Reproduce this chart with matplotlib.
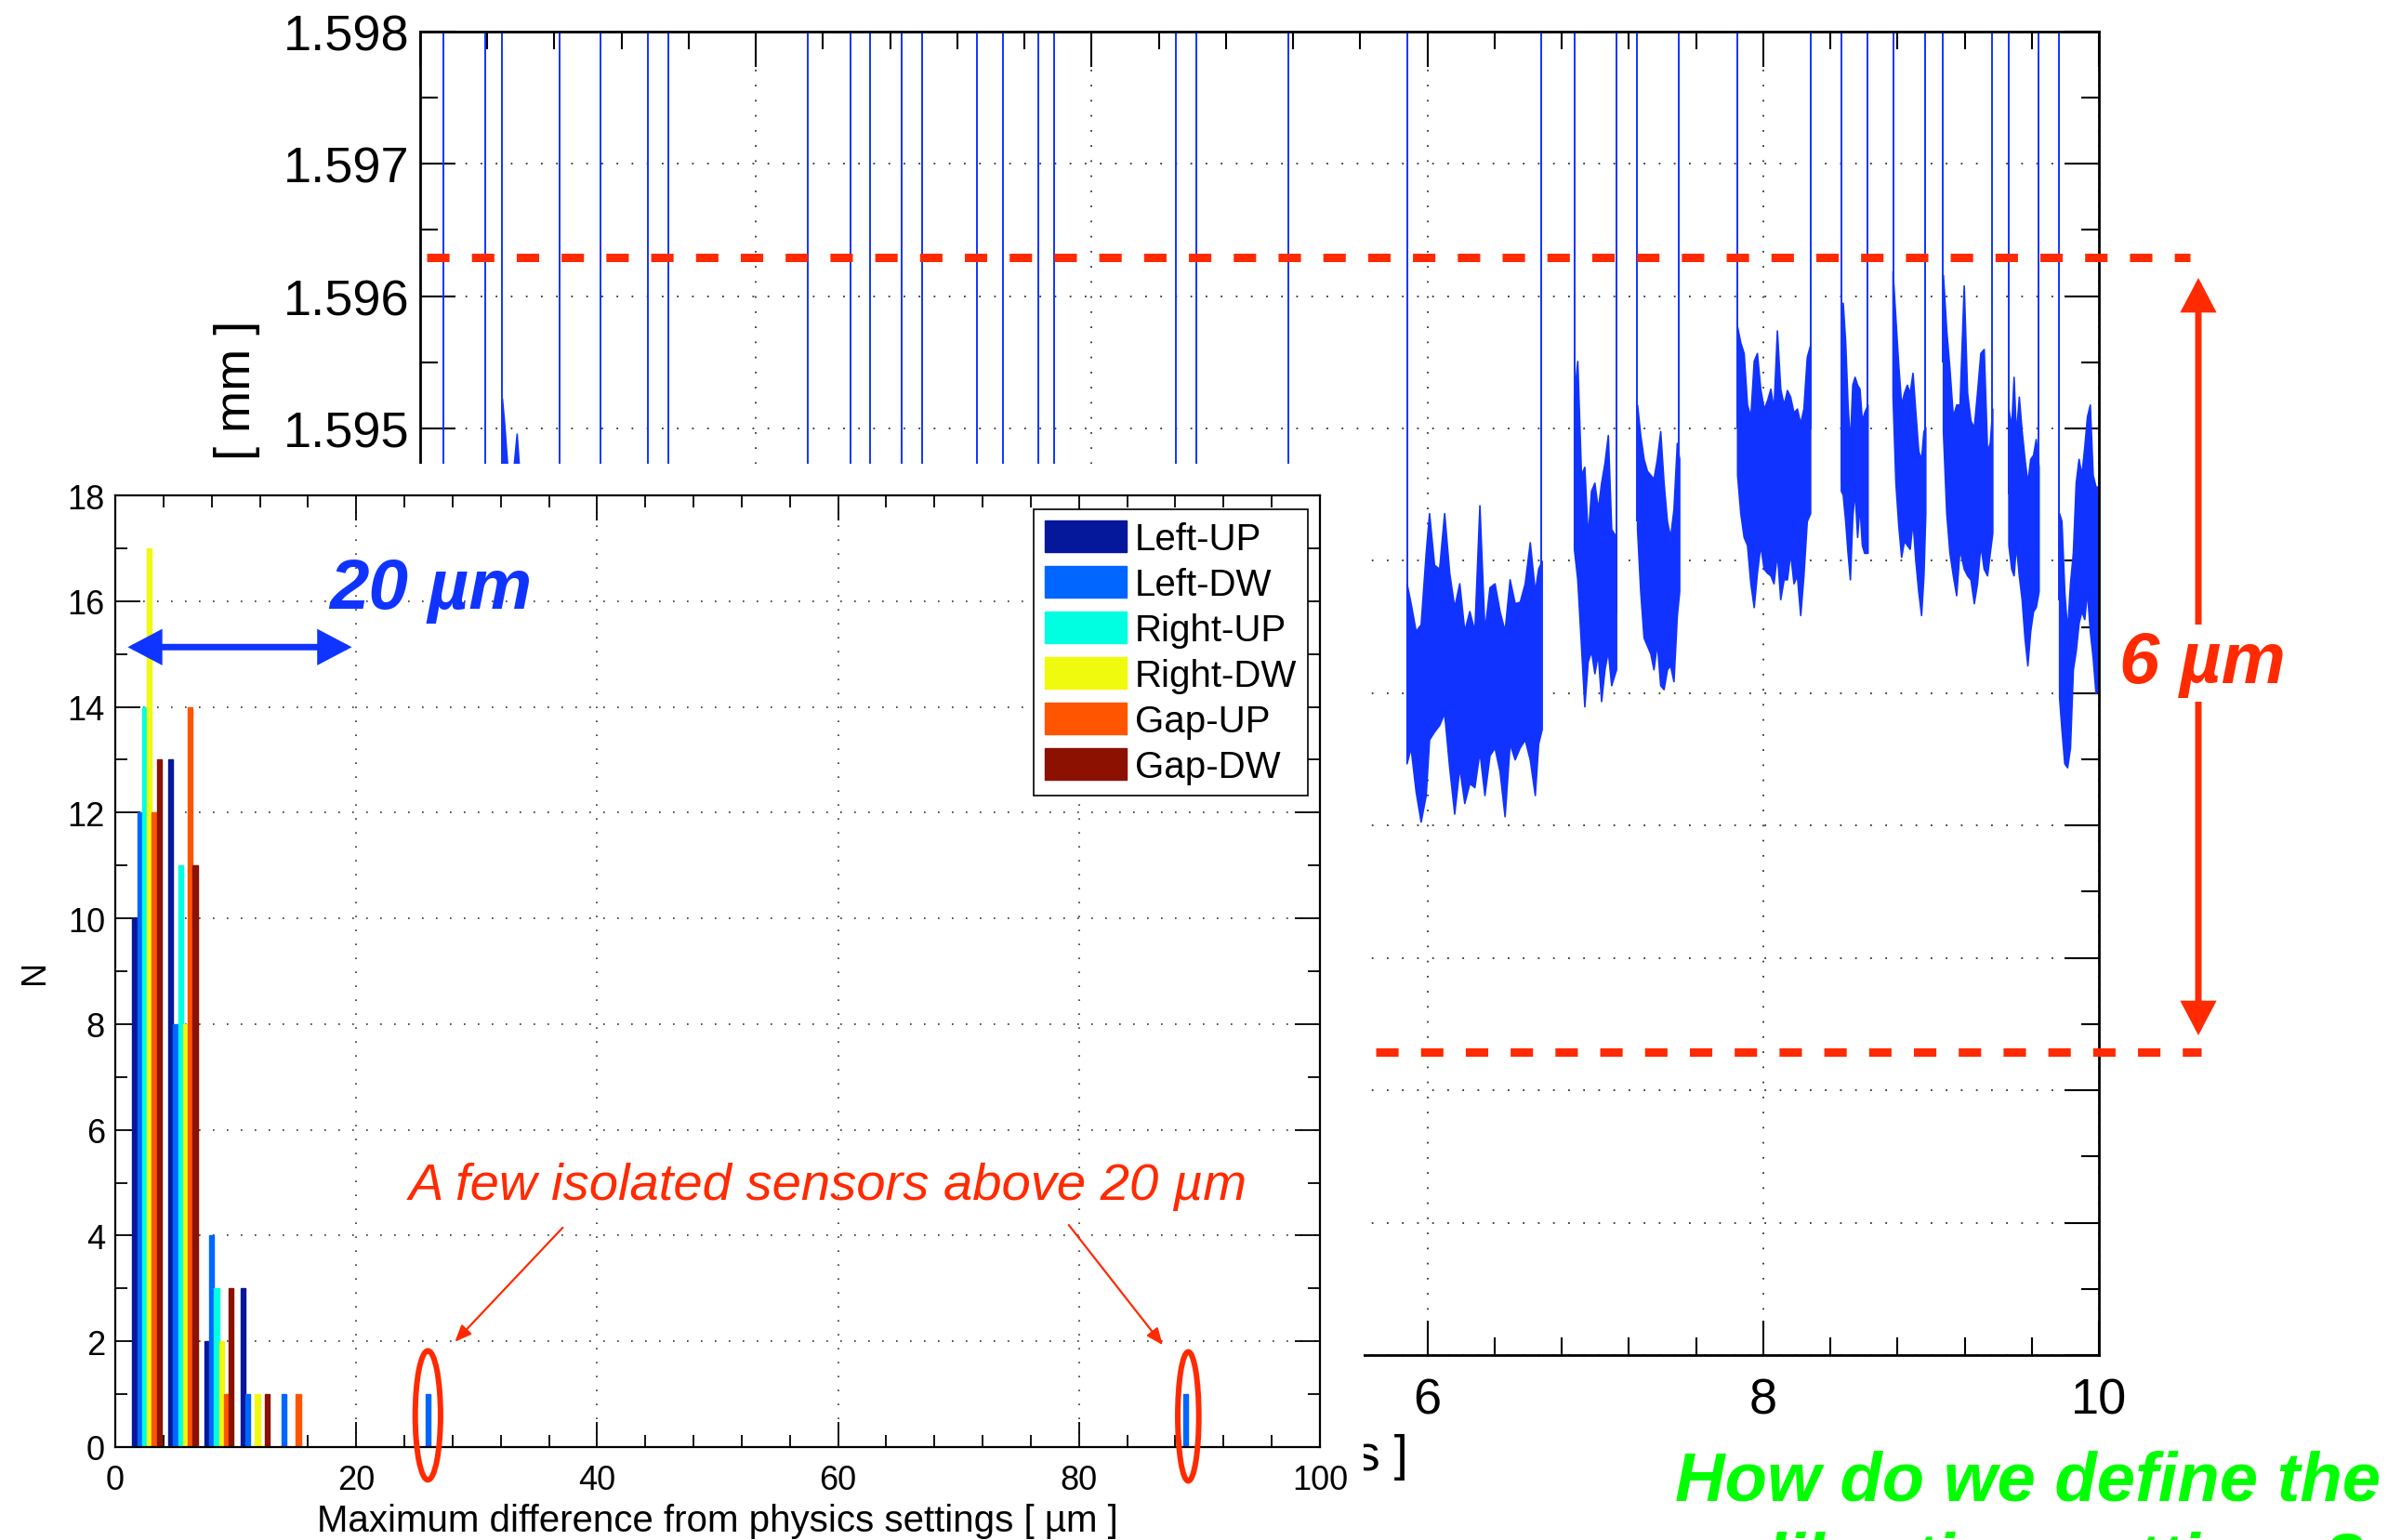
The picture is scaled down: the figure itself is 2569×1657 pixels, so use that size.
import numpy as np
import matplotlib.pyplot as plt
from matplotlib.patches import Ellipse, FancyArrowPatch
from matplotlib.ticker import MultipleLocator, FormatStrFormatter

plt.rcParams['font.family'] = ['Liberation Sans', 'DejaVu Sans']

# --- histogram data (inset) ---
series_names = ['Left-UP', 'Left-DW', 'Right-UP', 'Right-DW', 'Gap-UP', 'Gap-DW']
series_colors = ['#05179A', '#0066FF', '#00FFE1', '#F0FA0F', '#FF5500', '#8C1100']
n_bins = 30
bin_first, bin_step = 2.63, 2.993
counts_left_up = [10, 13, 2, 3] + [0] * 26
counts_left_dw = [12, 8, 4, 1, 1, 0, 0, 0, 1] + [0] * 20 + [1]
counts_right_up = [14, 11, 3] + [0] * 27
counts_right_dw = [17, 8, 2, 1] + [0] * 26
counts_gap_up = [12, 14, 1, 0, 1] + [0] * 25
counts_gap_dw = [13, 11, 3, 1] + [0] * 26

# --- time series data (background), [mm] vs time ---
seg_0_t = [0.487, 0.50, 0.52, 0.545, 0.575, 0.60, 0.65, 0.70, 0.75, 0.80, 0.831]
seg_0_hi = [1.59523, 1.59505, 1.59470, 1.59455, 1.59496, 1.59450, 1.59440, 1.59445, 1.59430, 1.59440, 1.59435]
seg_0_lo = [1.59380, 1.59370, 1.59360, 1.59350, 1.59365, 1.59340, 1.59350, 1.59345, 1.59335, 1.59350, 1.59340]

seg_a_t = [5.876, 5.90, 5.93, 5.96, 5.99, 6.01, 6.04, 6.07, 6.10, 6.13, 6.16, 6.19, 6.22, 6.25, 6.28,
           6.31, 6.34, 6.37, 6.40, 6.43, 6.46, 6.49, 6.52, 6.55, 6.58, 6.61, 6.64, 6.66, 6.681]
seg_a_hi = [1.59383, 1.59368, 1.59347, 1.59352, 1.59406, 1.59436, 1.59397, 1.59394, 1.59436, 1.59391,
            1.59365, 1.59383, 1.59347, 1.59362, 1.59347, 1.59442, 1.59347, 1.59380, 1.59383, 1.59362,
            1.59347, 1.59386, 1.59368, 1.59369, 1.59383, 1.59414, 1.59377, 1.59394, 1.59400]
seg_a_lo = [1.59247, 1.59259, 1.59226, 1.59203, 1.59223, 1.59265, 1.59271, 1.59276, 1.59285, 1.59244,
            1.59209, 1.59244, 1.59217, 1.59232, 1.59229, 1.59256, 1.59223, 1.59253, 1.59259, 1.59241,
            1.59207, 1.59262, 1.59250, 1.59259, 1.59265, 1.59250, 1.59223, 1.59262, 1.59273]

seg_b_t = [6.873, 6.893, 6.915, 6.935, 6.955, 6.975, 6.995, 7.015, 7.035, 7.055, 7.075, 7.095, 7.124]
seg_b_hi = [1.59524, 1.59551, 1.59465, 1.59471, 1.59418, 1.59453, 1.59459, 1.59439, 1.59459, 1.59474, 1.59495, 1.59424, 1.59418]
seg_b_lo = [1.59409, 1.59386, 1.59336, 1.59290, 1.59324, 1.59332, 1.59315, 1.59330, 1.59294, 1.59318, 1.59332, 1.59306, 1.59318]

seg_c_t = [7.249, 7.268, 7.288, 7.308, 7.328, 7.347, 7.367, 7.387, 7.407, 7.427, 7.446, 7.466, 7.486, 7.500]
seg_c_hi = [1.59518, 1.59495, 1.59477, 1.59468, 1.59465, 1.59462, 1.59477, 1.59498, 1.59459, 1.59430, 1.59418, 1.59439, 1.59489, 1.59477]
seg_c_lo = [1.59424, 1.59377, 1.59342, 1.59336, 1.59330, 1.59318, 1.59338, 1.59306, 1.59303, 1.59318, 1.59321, 1.59309, 1.59359, 1.59377]

seg_d_t = [7.845, 7.864, 7.884, 7.904, 7.924, 7.944, 7.963, 7.983, 8.003, 8.023, 8.043, 8.062, 8.082,
           8.102, 8.122, 8.142, 8.161, 8.181, 8.201, 8.221, 8.240, 8.260, 8.280]
seg_d_hi = [1.59577, 1.59565, 1.59557, 1.59518, 1.59509, 1.59551, 1.59557, 1.59530, 1.59515, 1.59521, 1.59530, 1.59515,
            1.59574, 1.59530, 1.59518, 1.59529, 1.59524, 1.59512, 1.59515, 1.59504, 1.59515, 1.59554, 1.59563]
seg_d_lo = [1.59465, 1.59436, 1.59418, 1.59412, 1.59383, 1.59365, 1.59391, 1.59412, 1.59394, 1.59391, 1.59389, 1.59383,
            1.59406, 1.59371, 1.59386, 1.59386, 1.59406, 1.59383, 1.59389, 1.59359, 1.59389, 1.59430, 1.59436]

seg_e_t = [8.463, 8.474, 8.489, 8.503, 8.517, 8.531, 8.545, 8.560, 8.574, 8.588, 8.602, 8.622]
seg_e_hi = [1.59495, 1.59595, 1.59565, 1.59518, 1.59489, 1.59533, 1.59539, 1.59533, 1.59530, 1.59506, 1.59512, 1.59518]
seg_e_lo = [1.59453, 1.59450, 1.59430, 1.59406, 1.59386, 1.59433, 1.59453, 1.59418, 1.59442, 1.59412, 1.59406, 1.59406]

seg_f_t = [8.771, 8.788, 8.805, 8.822, 8.839, 8.856, 8.873, 8.890, 8.907, 8.924, 8.941, 8.955, 8.966]
seg_f_hi = [1.59619, 1.59583, 1.59548, 1.59518, 1.59527, 1.59533, 1.59527, 1.59542, 1.59512, 1.59483, 1.59477, 1.59498, 1.59501]
seg_f_lo = [1.59524, 1.59459, 1.59427, 1.59403, 1.59415, 1.59412, 1.59409, 1.59430, 1.59400, 1.59377, 1.59359, 1.59389, 1.59436]

seg_g_t = [9.071, 9.091, 9.110, 9.130, 9.150, 9.170, 9.195, 9.215, 9.235, 9.255, 9.274, 9.294, 9.314, 9.334, 9.350, 9.365]
seg_g_hi = [1.59616, 1.59574, 1.59545, 1.59509, 1.59518, 1.59518, 1.59608, 1.59527, 1.59506, 1.59501, 1.59527, 1.59557,
            1.59560, 1.59483, 1.59489, 1.59515]
seg_g_lo = [1.59498, 1.59436, 1.59406, 1.59389, 1.59374, 1.59409, 1.59394, 1.59389, 1.59386, 1.59368, 1.59383, 1.59412,
            1.59394, 1.59389, 1.59406, 1.59421]

seg_h_t = [9.461, 9.478, 9.492, 9.506, 9.523, 9.540, 9.557, 9.574, 9.591, 9.608, 9.624, 9.641]
seg_h_hi = [1.59515, 1.59501, 1.59539, 1.59495, 1.59524, 1.59498, 1.59477, 1.59459, 1.59477, 1.59480, 1.59492, 1.59471]
seg_h_lo = [1.59412, 1.59394, 1.59389, 1.59412, 1.59389, 1.59371, 1.59342, 1.59321, 1.59347, 1.59362, 1.59365, 1.59377]

seg_i_t = [9.763, 9.777, 9.794, 9.811, 9.828, 9.845, 9.862, 9.879, 9.896, 9.913, 9.929, 9.946, 9.963, 9.980, 10.0]
seg_i_hi = [1.59436, 1.59430, 1.59377, 1.59347, 1.59383, 1.59406, 1.59459, 1.59477, 1.59465, 1.59486, 1.59509,
            1.59518, 1.59465, 1.59456, 1.59456]
seg_i_lo = [1.59297, 1.59273, 1.59247, 1.59244, 1.59259, 1.59318, 1.59332, 1.59353, 1.59362, 1.59356, 1.59377,
            1.59347, 1.59327, 1.59300, 1.59303]

# jumps to out-of-range values between segments
spike_t = [0.138, 0.386, 0.487, 0.831, 1.074, 1.357, 1.477, 2.307, 2.561, 2.678, 2.868, 2.992, 3.319, 3.471,
           3.682, 3.778, 4.499, 4.623, 5.169,
           5.881, 6.675, 6.877, 7.125, 7.249, 7.497, 7.846, 8.282, 8.466, 8.621, 8.774, 8.967, 9.072, 9.366,
           9.462, 9.641, 9.761]
spike_base = [1.5905] * 19 + [1.5932, 1.5935, 1.5945, 1.5936, 1.5943, 1.5940, 1.5950, 1.5950, 1.5946, 1.5945,
                              1.5955, 1.5947, 1.5955, 1.5947, 1.5945, 1.5942, 1.5937]
band_upper, band_lower = 1.59629, 1.59029

BLUE_TS = '#1133FF'
RED = '#FF2A00'
BLUE_TXT = '#1034FF'

W, H = 2569, 1658
fig = plt.figure(figsize=(W / 100, H / 100), dpi=100)

# ---------------- background time series ----------------
ax = fig.add_axes([452 / W, 1 - 1459 / H, 1806 / W, (1459 - 34.7) / H], zorder=1)
segments = [(seg_0_t, seg_0_lo, seg_0_hi), (seg_a_t, seg_a_lo, seg_a_hi), (seg_b_t, seg_b_lo, seg_b_hi),
            (seg_c_t, seg_c_lo, seg_c_hi), (seg_d_t, seg_d_lo, seg_d_hi), (seg_e_t, seg_e_lo, seg_e_hi),
            (seg_f_t, seg_f_lo, seg_f_hi), (seg_g_t, seg_g_lo, seg_g_hi), (seg_h_t, seg_h_lo, seg_h_hi),
            (seg_i_t, seg_i_lo, seg_i_hi)]
for t, lo, hi in segments:
    ax.fill_between(t, lo, hi, color=BLUE_TS, lw=1.2, zorder=2)
ax.vlines(spike_t, spike_base, 1.61, colors=BLUE_TS, lw=1.4, zorder=2)

ax.plot([0.039, 10.54], [band_upper, band_upper], color=RED, lw=6.5, ls=(0, (2.67, 2.67)),
        clip_on=False, zorder=4)
ax.plot([5.69, 10.61], [band_lower, band_lower], color=RED, lw=6.5, ls=(0, (2.67, 2.67)),
        clip_on=False, zorder=4)

ax.set_xlim(0, 10)
ax.set_ylim(1.588, 1.598)
ax.xaxis.set_major_locator(MultipleLocator(2))
ax.xaxis.set_minor_locator(MultipleLocator(0.4))
ax.yaxis.set_major_locator(MultipleLocator(0.001))
ax.yaxis.set_minor_locator(MultipleLocator(0.0005))
ax.yaxis.set_major_formatter(FormatStrFormatter('%.3f'))
ax.tick_params(which='both', direction='in', top=True, right=True, width=1.5)
ax.tick_params(which='major', length=27, labelsize=39)
ax.tick_params(which='minor', length=13.5)
ax.tick_params(axis='x', pad=17)
ax.tick_params(axis='y', pad=8.5)
ax.grid(True, which='major', ls=(0, (1, 8)), color='#333333', lw=1.3)
ax.set_axisbelow(True)
for sp in ax.spines.values():
    sp.set_linewidth(2)
ax.text(255 / W, 1 - 420 / H, '[ mm ]', rotation=90, fontsize=39, ha='center', va='center',
        transform=fig.transFigure)
ax.text(1515 / W, 1 - 1568 / H, 'Time [ days ]', fontsize=39, ha='right', va='center',
        transform=fig.transFigure)

# white area of the pasted histogram
axw = fig.add_axes([0, 0, 1467 / W, 1 - 500 / H], zorder=2)
axw.set_xticks([])
axw.set_yticks([])
for sp in axw.spines.values():
    sp.set_visible(False)

# ---------------- inset histogram ----------------
axi = fig.add_axes([124 / W, 1 - 1558 / H, 1296 / W, 1024 / H], zorder=3)
centers = bin_first + bin_step * np.arange(n_bins)
bw = 0.403
all_counts = [counts_left_up, counts_left_dw, counts_right_up, counts_right_dw, counts_gap_up, counts_gap_dw]
for i, (cnt, col, name) in enumerate(zip(all_counts, series_colors, series_names)):
    axi.bar(centers + (i - 2.5) * bw, cnt, width=bw, color=col, edgecolor=col, lw=1.0, label=name, zorder=2)

axi.set_xlim(0, 100)
axi.set_ylim(0, 18)
axi.xaxis.set_major_locator(MultipleLocator(20))
axi.xaxis.set_minor_locator(MultipleLocator(4))
axi.yaxis.set_major_locator(MultipleLocator(2))
axi.yaxis.set_minor_locator(MultipleLocator(1))
axi.tick_params(which='both', direction='in', top=True, right=True, width=1.3)
axi.tick_params(which='major', length=19.5, labelsize=26)
axi.tick_params(which='minor', length=9.5)
axi.tick_params(axis='x', pad=13)
axi.tick_params(axis='y', pad=8)
axi.grid(True, which='major', ls=(0, (1, 8)), color='#333333', lw=1.2)
axi.set_axisbelow(True)
for sp in axi.spines.values():
    sp.set_linewidth(1.6)
axi.set_xlabel('Maximum difference from physics settings [ µm ]', fontsize=29, labelpad=5)
axi.set_ylabel('N', fontsize=26)
axi.yaxis.set_label_coords(-0.0532, 0.5)

leg = axi.legend(loc='upper right', bbox_to_anchor=((1407 - 124) / 1296, (1558 - 549) / 1024),
                 fontsize=29, handlelength=2.17, handleheight=0.92, handletextpad=0.22,
                 labelspacing=0.25, borderpad=0.3, borderaxespad=0, fancybox=False,
                 edgecolor='black', framealpha=1)
leg.get_frame().set_linewidth(1.2)

# annotations on the histogram
axi.text(26.2, 15.87, '20 µm', color=BLUE_TXT, fontsize=55, fontweight='bold', fontstyle='italic',
         ha='center', va='baseline', zorder=6)
axi.add_patch(FancyArrowPatch((1.03, 15.13), (19.64, 15.13), arrowstyle='<|-|>,head_length=19,head_width=10',
                              mutation_scale=1, lw=5, color=BLUE_TXT, shrinkA=0, shrinkB=0,
                              joinstyle='miter', clip_on=False, zorder=6))
axi.text(59.15, 4.70, 'A few isolated sensors above 20 µm', color=RED, fontsize=40.5, fontstyle='italic',
         ha='center', va='baseline', zorder=6)
for start, tip in [((37.14, 4.15), (28.19, 1.99)), ((79.15, 4.20), (86.95, 1.93))]:
    axi.annotate('', xy=tip, xytext=start,
                 arrowprops=dict(arrowstyle='-|>,head_length=0.6,head_width=0.25', mutation_scale=18,
                                 color=RED, lw=1.6, shrinkA=0, shrinkB=0))
axi.add_patch(Ellipse((25.95, 0.60), 2.1, 2.44, fill=False, ec=RED, lw=4.3, clip_on=False, zorder=6))
axi.add_patch(Ellipse((89.07, 0.58), 1.75, 2.44, fill=False, ec=RED, lw=4.3, clip_on=False, zorder=6))

# ---------------- figure level annotations ----------------
fig.add_artist(FancyArrowPatch((2365 / W, 1 - 300 / H), (2365 / W, 1 - 1115 / H), transform=fig.transFigure,
                               arrowstyle='<|-|>,head_length=19,head_width=10', mutation_scale=1, lw=5,
                               color=RED, shrinkA=0, shrinkB=0, joinstyle='miter', zorder=5))
fig.text(2369 / W, 1 - 735 / H, '6 µm', fontsize=56, fontweight='bold', fontstyle='italic', color=RED,
         ha='center', va='baseline', zorder=6, bbox=dict(fc='white', ec='none', pad=4))
fig.text(2181 / W, 1 - 1615 / H, 'How do we define the', fontsize=53.5, fontweight='bold',
         fontstyle='italic', color='#00FF00', ha='center', va='baseline', zorder=6)
fig.text(2181 / W, 1 - 1702 / H, 'calibration settings?', fontsize=53.5, fontweight='bold',
         fontstyle='italic', color='#00FF00', ha='center', va='baseline', zorder=6)

fig.savefig('out.png', dpi=100)
